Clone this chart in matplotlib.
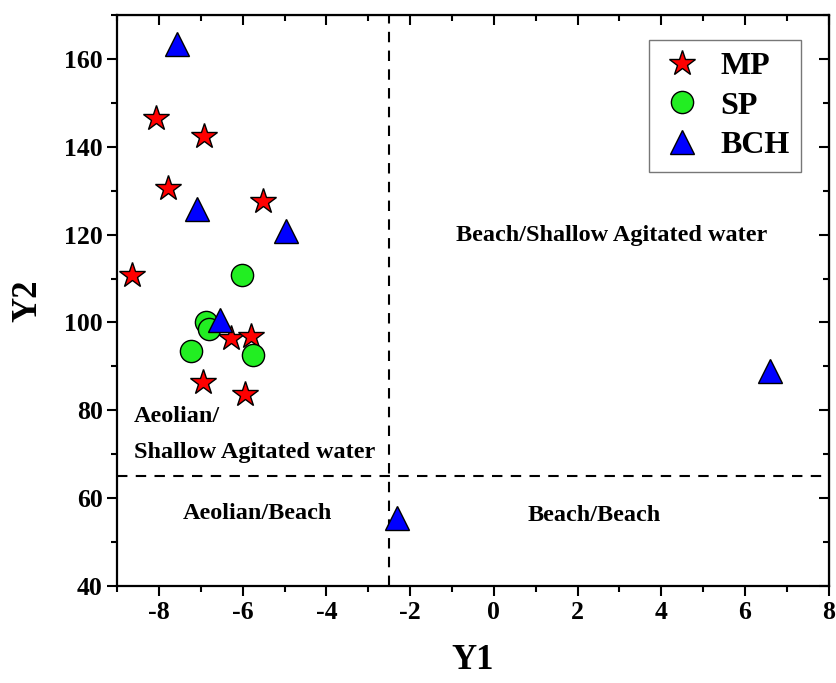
import matplotlib
matplotlib.use("Agg")
import matplotlib.pyplot as plt
from matplotlib.ticker import MultipleLocator

plt.rcParams['font.family'] = ['Liberation Serif', 'DejaVu Serif']
plt.rcParams['font.weight'] = 'bold'
plt.rcParams['axes.unicode_minus'] = False

# Data
mp_x = [-8.07, -6.92, -7.78, -5.52, -8.64, -6.28, -5.81, -6.96, -5.94]
mp_y = [146.5, 142.5, 130.6, 127.6, 110.9, 96.5, 97.0, 86.4, 83.8]
sp_x = [-6.01, -6.87, -6.80, -7.24, -5.75]
sp_y = [110.9, 100.0, 98.6, 93.5, 92.5]
bch_x = [-7.58, -7.10, -4.97, -6.54, 6.59, -2.31]
bch_y = [163.5, 125.8, 120.9, 100.6, 88.9, 55.4]

x_div = -2.5
y_div = 65

fig = plt.figure(figsize=(8.37, 6.83), dpi=100)
ax = fig.add_axes([0.140, 0.142, 0.850, 0.836])

ax.axvline(x_div, color='black', lw=1.5, ls=(0, (5, 4)), zorder=1)
ax.axhline(y_div, color='black', lw=1.5, ls=(0, (5, 4)), zorder=1)

ax.plot(mp_x, mp_y, ls='none', marker='*', ms=19, mfc='#ff0000', mec='black', mew=1.0, label='MP', zorder=3)
ax.plot(sp_x, sp_y, ls='none', marker='o', ms=16, mfc='#22ee22', mec='black', mew=1.0, label='SP', zorder=3)
ax.plot(bch_x, bch_y, ls='none', marker='^', ms=17, mfc='#0000ff', mec='black', mew=1.0, label='BCH', zorder=3)

ax.set_xlim(-9, 8)
ax.set_ylim(40, 170)
ax.xaxis.set_major_locator(MultipleLocator(2))
ax.xaxis.set_minor_locator(MultipleLocator(1))
ax.yaxis.set_major_locator(MultipleLocator(20))
ax.yaxis.set_minor_locator(MultipleLocator(10))

ax.tick_params(which='both', direction='out', width=1.5, labelsize=18.5)
ax.tick_params(which='major', length=7)
ax.tick_params(which='minor', length=4)
for lab in ax.get_xticklabels() + ax.get_yticklabels():
    lab.set_fontweight('bold')
for sp in ax.spines.values():
    sp.set_linewidth(1.6)

# mirrored inward ticks on top and right
secx = ax.secondary_xaxis('top')
secx.xaxis.set_major_locator(MultipleLocator(2))
secx.xaxis.set_minor_locator(MultipleLocator(1))
secx.tick_params(which='both', direction='in', width=1.5, labeltop=False)
secx.tick_params(which='major', length=7)
secx.tick_params(which='minor', length=4)
secy = ax.secondary_yaxis('right')
secy.yaxis.set_major_locator(MultipleLocator(20))
secy.yaxis.set_minor_locator(MultipleLocator(10))
secy.tick_params(which='both', direction='in', width=1.5, labelright=False)
secy.tick_params(which='major', length=7)
secy.tick_params(which='minor', length=4)

ax.set_xlabel('Y1', fontsize=25, fontweight='bold', labelpad=15)
ax.set_ylabel('Y2', fontsize=25, fontweight='bold', labelpad=14)

tfs = 17.5
ax.text(-8.6, 78.6, 'Aeolian/', fontsize=tfs, fontweight='bold', ha='left', va='center')
ax.text(-8.6, 70.5, 'Shallow Agitated water', fontsize=tfs, fontweight='bold', ha='left', va='center')
ax.text(-5.66, 56.5, 'Aeolian/Beach', fontsize=tfs, fontweight='bold', ha='center', va='center')
ax.text(2.39, 56.1, 'Beach/Beach', fontsize=tfs, fontweight='bold', ha='center', va='center')
ax.text(2.81, 119.8, 'Beach/Shallow Agitated water', fontsize=tfs, fontweight='bold', ha='center', va='center')

leg = ax.legend(loc='upper right', bbox_to_anchor=(0.961, 0.956), borderaxespad=0, frameon=True,
                fancybox=False, edgecolor='#555555', handletextpad=0.5, borderpad=0.35,
                labelspacing=0.33, handlelength=1.4, prop={'weight': 'bold', 'size': 23})
leg.get_frame().set_linewidth(1.0)

fig.savefig('out.png', dpi=100)
